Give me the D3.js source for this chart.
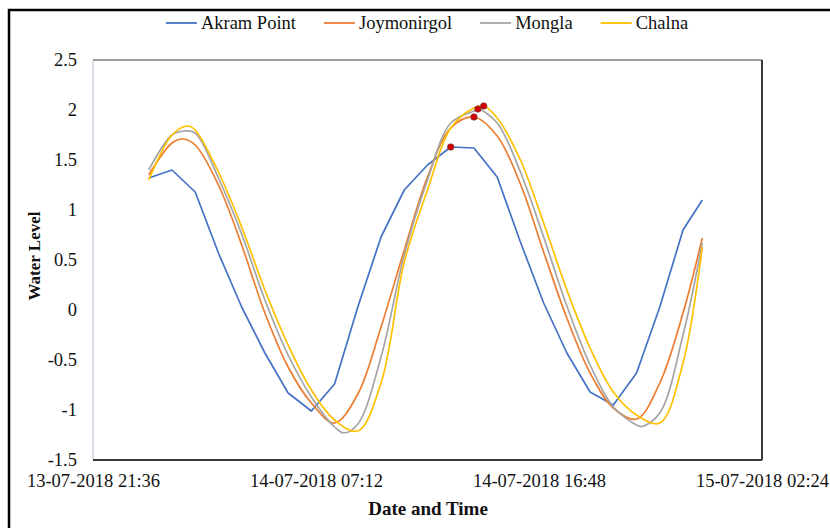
<!DOCTYPE html>
<html>
<head>
<meta charset="utf-8">
<script src="https://cdn.jsdelivr.net/npm/d3@7"></script>
<style>
    body { margin: 0; background: #fff; }
    svg text { font-family: "Liberation Serif", "Times New Roman", serif; fill: #111; }
</style>
</head>
<body>
<div id="tide-chart"></div>
<script>

// hours after 14-07-2018 00:00 for each reading
let hours = [0, 1, 2, 3, 4, 5, 6, 7, 8, 9, 10, 11, 12, 13, 14, 15, 16, 17, 18, 19, 20, 21, 22, 23, 23.83];

let akramPoint  = [1.32, 1.40, 1.18, 0.57, 0.03, -0.43, -0.83, -1.01, -0.74, 0.03, 0.73, 1.20, 1.45, 1.63, 1.62, 1.33, 0.68, 0.07, -0.43, -0.82, -0.95, -0.63, 0.03, 0.80, 1.10];
let joymonirgol = [1.35, 1.67, 1.65, 1.25, 0.65, -0.03, -0.57, -0.93, -1.13, -0.84, -0.17, 0.60, 1.33, 1.82, 1.93, 1.74, 1.26, 0.58, -0.08, -0.63, -0.98, -1.09, -0.73, -0.03, 0.72];
let mongla      = [1.40, 1.75, 1.77, 1.32, 0.76, 0.10, -0.45, -0.87, -1.17, -1.14, -0.47, 0.55, 1.30, 1.87, 1.99, 1.87, 1.38, 0.73, 0.04, -0.55, -0.97, -1.15, -1.03, -0.25, 0.67];
let chalna      = [1.30, 1.75, 1.80, 1.38, 0.83, 0.20, -0.35, -0.80, -1.10, -1.21, -0.73, 0.48, 1.20, 1.82, 2.02, 1.92, 1.50, 0.87, 0.20, -0.38, -0.82, -1.05, -1.13, -0.53, 0.63];

// extra readings around the turning points (hour, level)
let joymonirgolTurns = [[1.46, 1.71]];
let monglaTurns      = [[1.53, 1.79], [8.39, -1.23], [21.24, -1.165]];
let chalnaTurns      = [[1.68, 1.84]];

// high water of each station (marked with a red dot)
let peakHours  = [13, 14, 14.17, 14.42];
let peakLevels = [1.63, 1.93, 2.01, 2.04];

let stationNames  = ["Akram Point", "Joymonirgol", "Mongla", "Chalna"];
let stationColors = ["#4472C4", "#ED7D31", "#A5A5A5", "#FFC000"];

let yTicks = [-1.5, -1, -0.5, 0, 0.5, 1, 1.5, 2, 2.5];
let xTicks = ["2018-07-13T21:36", "2018-07-14T07:12", "2018-07-14T16:48", "2018-07-15T02:24"];

let width = 830, height = 528;
let plot = {left: 93, right: 762, top: 60, bottom: 460};
let labelSize = "18.5px";

let startTime = new Date(2018, 6, 14, 0, 0);
function toDate(h) { return new Date(startTime.getTime() + h * 3600 * 1000); }
let parseTick = d3.timeParse("%Y-%m-%dT%H:%M");

let svg = d3.select("#tide-chart").append("svg")
    .attr("width", width)
    .attr("height", height);

// frame round the whole figure
svg.append("rect")
    .attr("x", 9).attr("y", 10)
    .attr("width", 900).attr("height", 600)
    .attr("fill", "none")
    .attr("stroke", "#000")
    .attr("stroke-width", 2.5);

let x = d3.scaleTime()
    .domain([parseTick(xTicks[0]), parseTick(xTicks[xTicks.length - 1])])
    .range([plot.left, plot.right]);

let y = d3.scaleLinear()
    .domain([-1.5, 2.5])
    .range([plot.bottom, plot.top]);

// build series: hourly readings + turning points + high water, sorted by time
function buildSeries(values, turns, i) {
    let pts = hours.map(function(h, j) { return [h, values[j]]; });
    (turns || []).forEach(function(t) { pts.push(t); });
    if (!pts.some(function(p) { return p[0] === peakHours[i]; })) {
        pts.push([peakHours[i], peakLevels[i]]);
    }
    pts.sort(function(a, b) { return a[0] - b[0]; });
    return pts.map(function(p) { return {date: toDate(p[0]), value: p[1]}; });
}

let series = [
    {name: stationNames[0], color: stationColors[0], smooth: false, points: buildSeries(akramPoint, null, 0)},
    {name: stationNames[1], color: stationColors[1], smooth: true,  points: buildSeries(joymonirgol, joymonirgolTurns, 1)},
    {name: stationNames[2], color: stationColors[2], smooth: true,  points: buildSeries(mongla, monglaTurns, 2)},
    {name: stationNames[3], color: stationColors[3], smooth: true,  points: buildSeries(chalna, chalnaTurns, 3)}
];

// plot area border
let border = svg.append("g");
border.append("line")
    .attr("x1", plot.left).attr("x2", plot.left)
    .attr("y1", plot.top).attr("y2", plot.bottom)
    .attr("stroke", "#b8c2d6").attr("stroke-width", 1);
border.append("line")
    .attr("x1", plot.left).attr("x2", plot.right)
    .attr("y1", plot.top).attr("y2", plot.top)
    .attr("stroke", "#7f7f7f").attr("stroke-width", 1.5);
border.append("line")
    .attr("x1", plot.right).attr("x2", plot.right)
    .attr("y1", plot.top).attr("y2", plot.bottom)
    .attr("stroke", "#3a3a3a").attr("stroke-width", 2);
border.append("line")
    .attr("x1", plot.left).attr("x2", plot.right)
    .attr("y1", plot.bottom).attr("y2", plot.bottom)
    .attr("stroke", "#3a3a3a").attr("stroke-width", 2);

// axes
let yAxis = d3.axisLeft(y)
    .tickValues(yTicks)
    .tickFormat(function(d) { return String(d); })
    .tickSize(0)
    .tickPadding(16);

svg.append("g")
    .attr("transform", "translate(" + plot.left + ",0)")
    .call(yAxis)
    .call(function(g) { g.select(".domain").remove(); })
    .selectAll("text")
    .style("font-size", labelSize)
    .style("font-family", "Liberation Serif");

let xAxis = d3.axisBottom(x)
    .tickValues(xTicks.map(parseTick))
    .tickFormat(d3.timeFormat("%d-%m-%Y %H:%M"))
    .tickSize(0)
    .tickPadding(14);

svg.append("g")
    .attr("transform", "translate(0," + plot.bottom + ")")
    .call(xAxis)
    .call(function(g) { g.select(".domain").remove(); })
    .selectAll("text")
    .style("font-size", labelSize)
    .style("font-family", "Liberation Serif");

// axis titles
svg.append("text")
    .attr("x", 428).attr("y", 515)
    .attr("text-anchor", "middle")
    .style("font-size", "19px")
    .style("font-weight", "bold")
    .text("Date and Time");

svg.append("text")
    .attr("transform", "translate(40,256) rotate(-90)")
    .attr("text-anchor", "middle")
    .style("font-size", "17px")
    .style("font-weight", "bold")
    .text("Water Level");

// lines
let straight = d3.line()
    .x(function(d) { return x(d.date); })
    .y(function(d) { return y(d.value); });

let curved = d3.line()
    .curve(d3.curveCatmullRom.alpha(0.5))
    .x(function(d) { return x(d.date); })
    .y(function(d) { return y(d.value); });

svg.append("g").selectAll("path")
    .data(series)
    .enter()
    .append("path")
    .attr("d", function(d) { return d.smooth ? curved(d.points) : straight(d.points); })
    .attr("fill", "none")
    .attr("stroke", function(d) { return d.color; })
    .attr("stroke-width", 1.7)
    .attr("stroke-linejoin", "round");

// high water markers
svg.append("g").selectAll("circle")
    .data(peakHours)
    .enter()
    .append("circle")
    .attr("cx", function(h) { return x(toDate(h)); })
    .attr("cy", function(h, i) { return y(peakLevels[i]); })
    .attr("r", 3.3)
    .attr("fill", "#d40000")
    .attr("stroke", "#6b4a4a")
    .attr("stroke-width", 0.6);

// legend along the top, centred over the plot
let legend = svg.append("g");
let item = legend.selectAll("g")
    .data(series)
    .enter()
    .append("g");

item.append("line")
    .attr("x1", 0).attr("x2", 31)
    .attr("y1", 0).attr("y2", 0)
    .attr("stroke", function(d) { return d.color; })
    .attr("stroke-width", 1.8);

item.append("text")
    .attr("x", 35)
    .attr("dy", "0.33em")
    .style("font-size", labelSize)
    .text(function(d) { return d.name; });

let offset = 0;
item.each(function() {
    let g = d3.select(this);
    let w = 35 + g.select("text").node().getComputedTextLength();
    g.attr("transform", "translate(" + offset + ",0)");
    offset += w + 28;
});
offset -= 28;
legend.attr("transform", "translate(" + (427 - offset / 2) + ",23)");

</script>
</body>
</html>
